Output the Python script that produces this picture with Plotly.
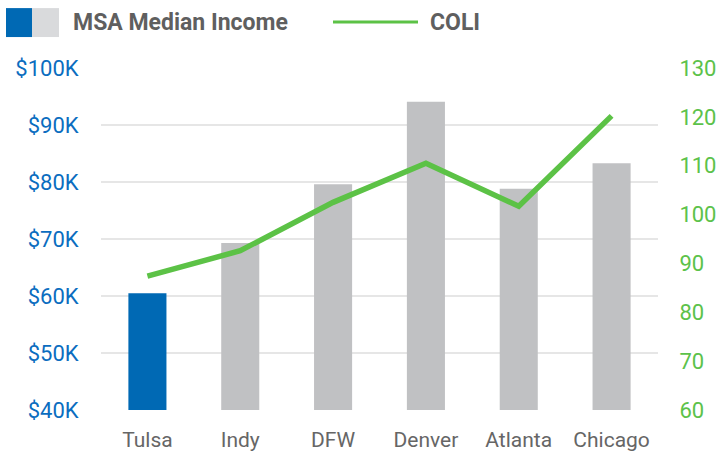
import plotly.graph_objects as go

cities = ["Tulsa", "Indy", "DFW", "Denver", "Atlanta", "Chicago"]
income_k = [60.5, 69.3, 79.6, 94.1, 78.8, 83.3]
coli = [87.4, 92.6, 102.5, 110.5, 101.7, 120.2]
income_ticks = [40, 50, 60, 70, 80, 90, 100]
income_ticklabels = ["$40K", "$50K", "$60K", "$70K", "$80K", "$90K", "$100K"]
coli_ticks = [60, 70, 80, 90, 100, 110, 120, 130]

BLUE = "#0069b4"
GRAY = "#c0c1c3"
GRAY_LIGHT = "#d9dadc"
GREEN = "#5cc246"
FONT = "Roboto"

bar_colors = [BLUE if c == "Tulsa" else GRAY for c in cities]

fig = go.Figure()
fig.add_trace(go.Bar(x=cities, y=income_k, marker=dict(color=bar_colors, line=dict(width=0)),
                     showlegend=False, yaxis="y"))
fig.add_trace(go.Scatter(x=cities, y=coli, mode="lines", line=dict(color=GREEN, width=5.5),
                         showlegend=False, yaxis="y2"))

W, H = 719, 455
L, R, T, B = 101, 61, 68, 44.5
pw = W - L - R
ph = H - T - B

def px(x):
    return (x - L) / pw

def py(y):
    return (H - B - y) / ph

fig.update_layout(
    width=W, height=H,
    margin=dict(l=L, r=R, t=T, b=B, pad=0, autoexpand=False),
    paper_bgcolor="white", plot_bgcolor="white",
    bargap=0.59,
    font=dict(family=FONT),
    xaxis=dict(showgrid=False, showline=False, zeroline=False, ticks="outside", ticklen=0,
               ticklabelstandoff=11, automargin=False,
               tickfont=dict(family=FONT, size=21, color="#666666")),
    yaxis=dict(range=[40, 100], tickvals=income_ticks, ticktext=income_ticklabels,
               showgrid=True, gridcolor="#e6e6e6", gridwidth=2, zeroline=False, showline=False,
               ticks="outside", ticklen=0, ticklabelstandoff=17, automargin=False,
               tickfont=dict(family=FONT, size=22, color="#0b6dbf")),
    yaxis2=dict(range=[60, 130], tickvals=coli_ticks, overlaying="y", side="right",
                showgrid=False, zeroline=False, showline=False, automargin=False,
                ticks="outside", ticklen=0, ticklabelstandoff=16,
                tickfont=dict(family=FONT, size=22, color="#5cc24a")),
)

shapes = [
    dict(type="rect", xref="paper", yref="paper", x0=px(6), x1=px(32), y0=py(37), y1=py(8),
         fillcolor=BLUE, line=dict(width=0)),
    dict(type="rect", xref="paper", yref="paper", x0=px(32), x1=px(59), y0=py(37), y1=py(8),
         fillcolor=GRAY_LIGHT, line=dict(width=0)),
    dict(type="line", xref="paper", yref="paper", x0=px(333), x1=px(418), y0=py(22), y1=py(22),
         line=dict(color=GREEN, width=3)),
]
fig.update_layout(shapes=shapes)
fig.add_annotation(xref="paper", yref="paper", x=px(71), y=py(22.5), xanchor="left", yanchor="middle",
                   text="<b>MSA Median Income</b>", showarrow=False,
                   font=dict(family=FONT, size=23, color="#5f5f5f"))
fig.add_annotation(xref="paper", yref="paper", x=px(428), y=py(22.5), xanchor="left", yanchor="middle",
                   text="<b>COLI</b>", showarrow=False,
                   font=dict(family=FONT, size=23, color="#5f5f5f"))

fig.write_html("out.html")
